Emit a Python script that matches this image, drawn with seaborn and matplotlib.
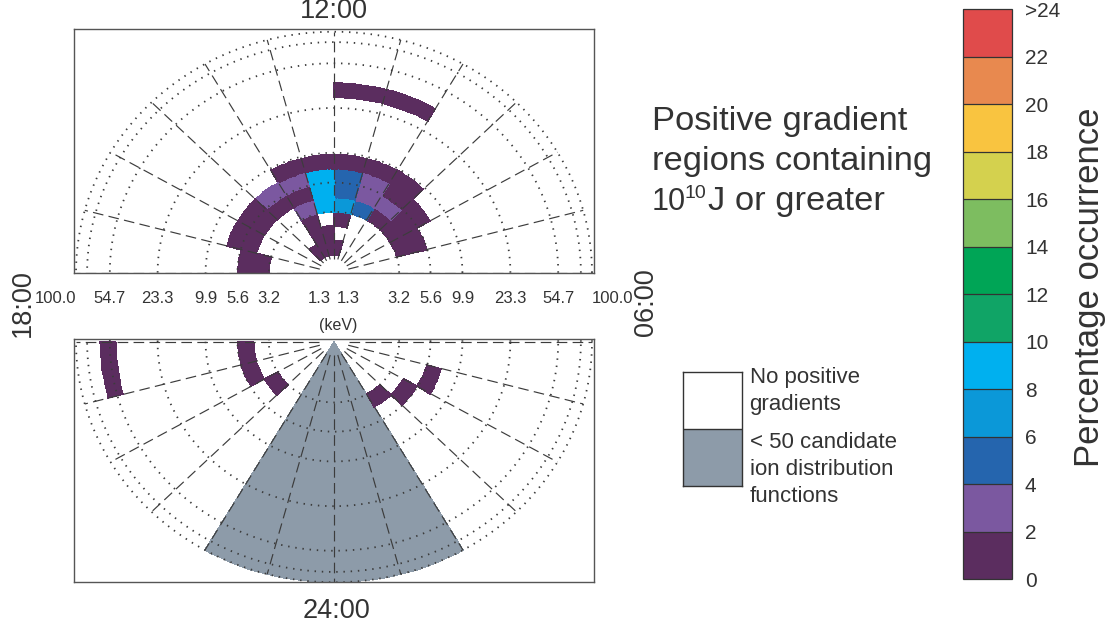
import numpy as np
import matplotlib
matplotlib.use("Agg")
import matplotlib.pyplot as plt
import seaborn as sns
from matplotlib.colors import ListedColormap, BoundaryNorm
from matplotlib.cm import ScalarMappable

# ---------------- data ----------------
# energy channel edges (keV), log-spaced
energy_edges_kev = [1.41, 1.85, 2.44, 3.20, 4.21, 5.53, 7.27, 9.55, 12.5,
                    16.5, 21.7, 28.5, 37.4, 49.2, 64.6, 84.9, 100.0]
energy_tick_kev = [1.3, 3.2, 5.6, 9.9, 23.3, 54.7, 100.0]
energy_tick_labels = ["1.3", "3.2", "5.6", "9.9", "23.3", "54.7", "100.0"]
grid_circle_kev = [3.2, 5.6, 9.9, 23.3, 54.7, 82.0, 100.0]
grid_inner_kev = 1.3

# occupied cells: MLT hour start, energy channel index, percentage occurrence
cell_mlt = [14, 13, 12, 11,
            13, 12,
            13, 11,
            17, 13, 12, 11, 10, 9, 8, 7, 20, 2,
            17, 16, 15, 14, 13, 12, 11, 10, 9, 8, 7, 18, 19, 3,
            16, 15, 14, 13, 12, 11, 10, 9, 8, 4,
            13, 12, 11, 10, 9,
            11, 10,
            18]
cell_bin = [0, 0, 0, 0,
            1, 1,
            2, 2,
            3, 3, 3, 3, 3, 3, 3, 3, 3, 3,
            4, 4, 4, 4, 4, 4, 4, 4, 4, 4, 4, 4, 4, 4,
            5, 5, 5, 5, 5, 5, 5, 5, 5, 5,
            6, 6, 6, 6, 6,
            11, 11,
            13]
cell_pct = [1, 1, 1, 1,
            1, 1,
            1, 1,
            1, 3, 9, 7, 5, 1, 1, 1, 1, 1,
            1, 1, 1, 1, 1, 9, 5, 3, 3, 1, 1, 1, 1, 1,
            1, 1, 3, 3, 9, 5, 3, 1, 1, 1,
            1, 1, 1, 1, 1,
            1, 1,
            1]

# MLT hours with < 50 candidate ion distribution functions
low_count_mlt = [22, 23, 0, 1]

cbar_bounds = [0, 2, 4, 6, 8, 10, 12, 14, 16, 18, 20, 22, 24]
cbar_colors = ["#5b2d5f", "#7b58a0", "#2565ae", "#0b98d8", "#00b0ef",
               "#10a466", "#00a556", "#7dbd60", "#d4d14e", "#f9c440",
               "#e8894f", "#e04b4b"]
cbar_labels = ["0", "2", "4", "6", "8", "10", "12", "14", "16", "18",
               "20", "22", ">24"]
low_count_color = "#8d9ba9"

# ---------------- style ----------------
sns.set_theme(style="white")
plt.rcParams["font.family"] = ["Liberation Sans", "DejaVu Sans"]
TXT = "#333333"
GRID = "#3c3c3c"

W, H = 1111, 625
fig = plt.figure(figsize=(W / 100, H / 100), dpi=100)


def px_axes(x0, y0, x1, y1):
    return fig.add_axes([x0 / W, 1 - y1 / H, (x1 - x0) / W, (y1 - y0) / H])


cmap = ListedColormap(cbar_colors)
norm = BoundaryNorm(cbar_bounds, cmap.N)

sub = 8
mlt_edges = np.linspace(0, 24, 24 * sub + 1)
mlt_mid = 0.5 * (mlt_edges[:-1] + mlt_edges[1:])
phi = np.deg2rad((mlt_edges - 6.0) * 15.0)
r_edges = np.log10(energy_edges_kev)
RR, PP = np.meshgrid(r_edges, phi)
X = RR * np.cos(PP)
Y = RR * np.sin(PP)
C = np.full((24 * sub, len(r_edges) - 1), np.nan)
for m, b, v in zip(cell_mlt, cell_bin, cell_pct):
    C[m * sub:(m + 1) * sub, b] = v

r_outer = np.log10(energy_edges_kev[-1])
RG, PG = np.meshgrid([0.0, r_outer], phi)
XG = RG * np.cos(PG)
YG = RG * np.sin(PG)
G = np.full((24 * sub, 1), np.nan)
for m in low_count_mlt:
    G[m * sub:(m + 1) * sub, 0] = 1.0

day = (mlt_mid > 6) & (mlt_mid < 18)

RLIM = 260 / 129.0


def draw_dial(ax, rows):
    Cm = np.ma.masked_invalid(np.where(rows[:, None], C, np.nan))
    Gm = np.ma.masked_invalid(np.where(rows[:, None], G, np.nan))
    ax.pcolormesh(XG, YG, Gm, cmap=ListedColormap([low_count_color]),
                  shading="flat", edgecolors="face", linewidth=0.3, zorder=1)
    ax.pcolormesh(X, Y, Cm, cmap=cmap, norm=norm, shading="flat",
                  edgecolors="face", linewidth=0.3, zorder=2)
    t = np.linspace(0, 2 * np.pi, 720)
    for e in grid_circle_kev:
        r = np.log10(e)
        ax.plot(r * np.cos(t), r * np.sin(t), color=GRID, lw=1.3,
                linestyle=(0, (0.8, 3.2)), zorder=3)
    r0 = np.log10(grid_inner_kev)
    for h in range(24):
        a = np.deg2rad((h - 6) * 15.0)
        ax.plot([r0 * np.cos(a), r_outer * np.cos(a)],
                [r0 * np.sin(a), r_outer * np.sin(a)],
                color=GRID, lw=0.85, linestyle=(0, (9, 4.5)), zorder=3)
    ax.set_xlim(-RLIM, RLIM)
    for s in ax.spines.values():
        s.set_edgecolor("#555555")
        s.set_linewidth(1.0)
        s.set_zorder(5)


ax_top = px_axes(74, 29.3, 594, 272.7)
draw_dial(ax_top, day)
ax_top.set_ylim(0, 2.02)
ax_top.set_yticks([])
ticks = [-np.log10(e) for e in energy_tick_kev[::-1]] + [np.log10(e) for e in energy_tick_kev]
labels = energy_tick_labels[::-1] + energy_tick_labels
ax_top.set_xticks(ticks)
ax_top.set_xticklabels(labels)
ax_top.tick_params(axis="x", length=0, pad=13, labelsize=12, colors=TXT)
tl = ax_top.get_xticklabels()
tl[0].set_ha("right")
tl[-1].set_ha("left")

ax_bot = px_axes(74, 338.7, 594, 582.3)
draw_dial(ax_bot, ~day)
ax_bot.set_ylim(-2.0, 0.025)
ax_bot.set_xticks([])
ax_bot.set_yticks([])

# clock labels
fig.text(334 / W, 1 - 11 / H, "12:00", ha="center", va="center", fontsize=19.5, color=TXT)
fig.text(336 / W, 1 - 611 / H, "24:00", ha="center", va="center", fontsize=19.5, color=TXT)
fig.text(23 / W, 1 - 303.5 / H, "18:00", ha="center", va="center", fontsize=19.5,
         rotation=90, color=TXT)
fig.text(646 / W, 1 - 302 / H, "06:00", ha="center", va="center", fontsize=19.5,
         rotation=90, color=TXT)
fig.text(338 / W, 1 - 326 / H, "(keV)", ha="center", va="center", fontsize=11.5, color=TXT)

# title block
fs_big = 24.8
fig.text(652 / W, 1 - 130 / H, "Positive gradient", ha="left", va="baseline",
         fontsize=fs_big, color=TXT)
fig.text(652 / W, 1 - 170 / H, "regions containing", ha="left", va="baseline",
         fontsize=fs_big, color=TXT)
fig.text(652 / W, 1 - 210 / H, "10", ha="left", va="baseline", fontsize=22, color=TXT)
fig.text(684 / W, 1 - 198 / H, "10", ha="left", va="baseline", fontsize=14, color=TXT)
fig.text(708 / W, 1 - 210 / H, "J or greater", ha="left", va="baseline",
         fontsize=fs_big, color=TXT)

# legend boxes
lax = px_axes(683.3, 371.7, 742.3, 485.7)
lax.set_xlim(0, 1)
lax.set_ylim(0, 1)
lax.axhspan(0, 0.5, color=low_count_color, lw=0)
lax.axhline(0.5, color="#333333", lw=1.0)
lax.set_xticks([])
lax.set_yticks([])
for s in lax.spines.values():
    s.set_edgecolor("#333333")
    s.set_linewidth(1.0)
fs_leg = 16
for txt, yb in [("No positive", 383.3), ("gradients", 410),
                ("< 50 candidate", 448.3), ("ion distribution", 475),
                ("functions", 501.7)]:
    fig.text(749.5 / W, 1 - yb / H, txt, ha="left", va="baseline",
             fontsize=fs_leg, color=TXT)

# colorbar
cax = px_axes(962.7, 9.3, 1011.7, 579.3)
sm = ScalarMappable(norm=norm, cmap=cmap)
cb = fig.colorbar(sm, cax=cax, drawedges=True)
cb.set_ticks(cbar_bounds)
cb.set_ticklabels(cbar_labels)
cb.ax.tick_params(length=0, pad=9.5, labelsize=15, colors=TXT)
cb.outline.set_edgecolor("#333333")
cb.outline.set_linewidth(0.9)
cb.dividers.set_color("#333333")
cb.dividers.set_linewidth(0.9)
fig.text(1090 / W, 1 - 287.5 / H, "Percentage occurrence", ha="center", va="center",
         rotation=90, fontsize=25, color=TXT)

fig.savefig("out.png", dpi=100)
